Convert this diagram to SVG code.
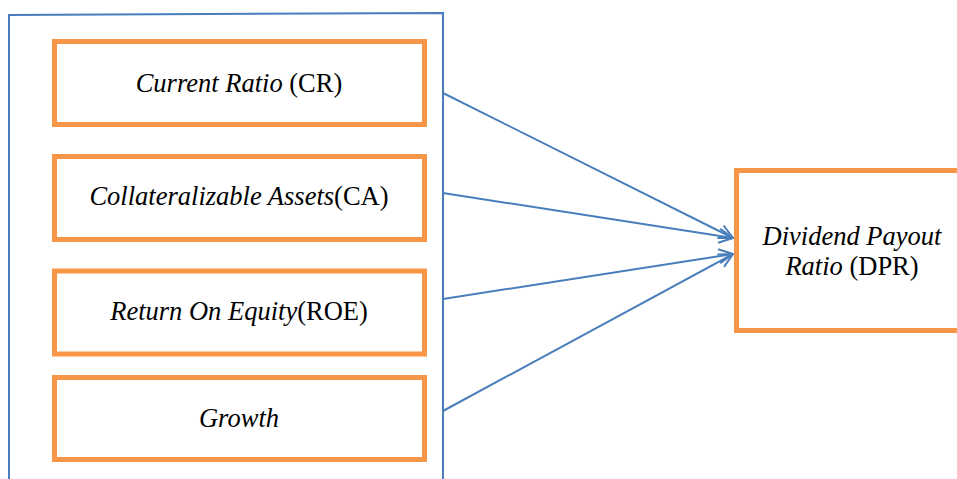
<svg xmlns="http://www.w3.org/2000/svg" width="957" height="479" viewBox="0 0 957 479">
<style>
.box{fill:#fff;stroke:#f79646;stroke-width:5}
.lbl{font-family:'Liberation Serif','Times New Roman',serif;font-size:26.5px;fill:#000;text-anchor:middle}
.it{font-style:italic}
.con{stroke:#4a7ebb;stroke-width:2;fill:none}
</style>
<defs>
<marker id="arr" viewBox="0 0 16 16" refX="15" refY="8" markerWidth="16" markerHeight="16" markerUnits="userSpaceOnUse" orient="auto">
<path d="M1,1 L15,8 L1,15" fill="none" stroke="#4a7ebb" stroke-width="2"/>
</marker>
</defs>
<g id="container">
<path class="con" d="M9,479 L9,15 L443,13 L443,479"/>
</g>
<g id="cr">
<rect class="box" x="54.5" y="41.5" width="370" height="83"/>
<text class="lbl" x="239" y="92"><tspan class="it">Current Ratio</tspan> (CR)</text>
</g>
<g id="ca">
<rect class="box" x="54.5" y="156.5" width="370" height="83"/>
<text class="lbl" x="239" y="205"><tspan class="it">Collateralizable Assets</tspan>(CA)</text>
</g>
<g id="roe">
<rect class="box" x="54.5" y="271" width="370" height="83"/>
<text class="lbl" x="239" y="320"><tspan class="it">Return On Equity</tspan>(ROE)</text>
</g>
<g id="growth">
<rect class="box" x="54.5" y="377.5" width="370" height="82"/>
<text class="lbl it" x="239" y="427">Growth</text>
</g>
<g id="dpr">
<rect class="box" x="736.5" y="170.5" width="230" height="160"/>
<text class="lbl it" x="852" y="245">Dividend Payout</text>
<text class="lbl" x="852" y="275"><tspan class="it">Ratio</tspan> (DPR)</text>
</g>
<g id="connectors">
<line class="con" x1="443" y1="93" x2="733" y2="238" marker-end="url(#arr)"/>
<line class="con" x1="443" y1="193" x2="733" y2="238" marker-end="url(#arr)"/>
<line class="con" x1="443" y1="299" x2="733" y2="254" marker-end="url(#arr)"/>
<line class="con" x1="443" y1="411" x2="733" y2="254" marker-end="url(#arr)"/>
</g>
</svg>
